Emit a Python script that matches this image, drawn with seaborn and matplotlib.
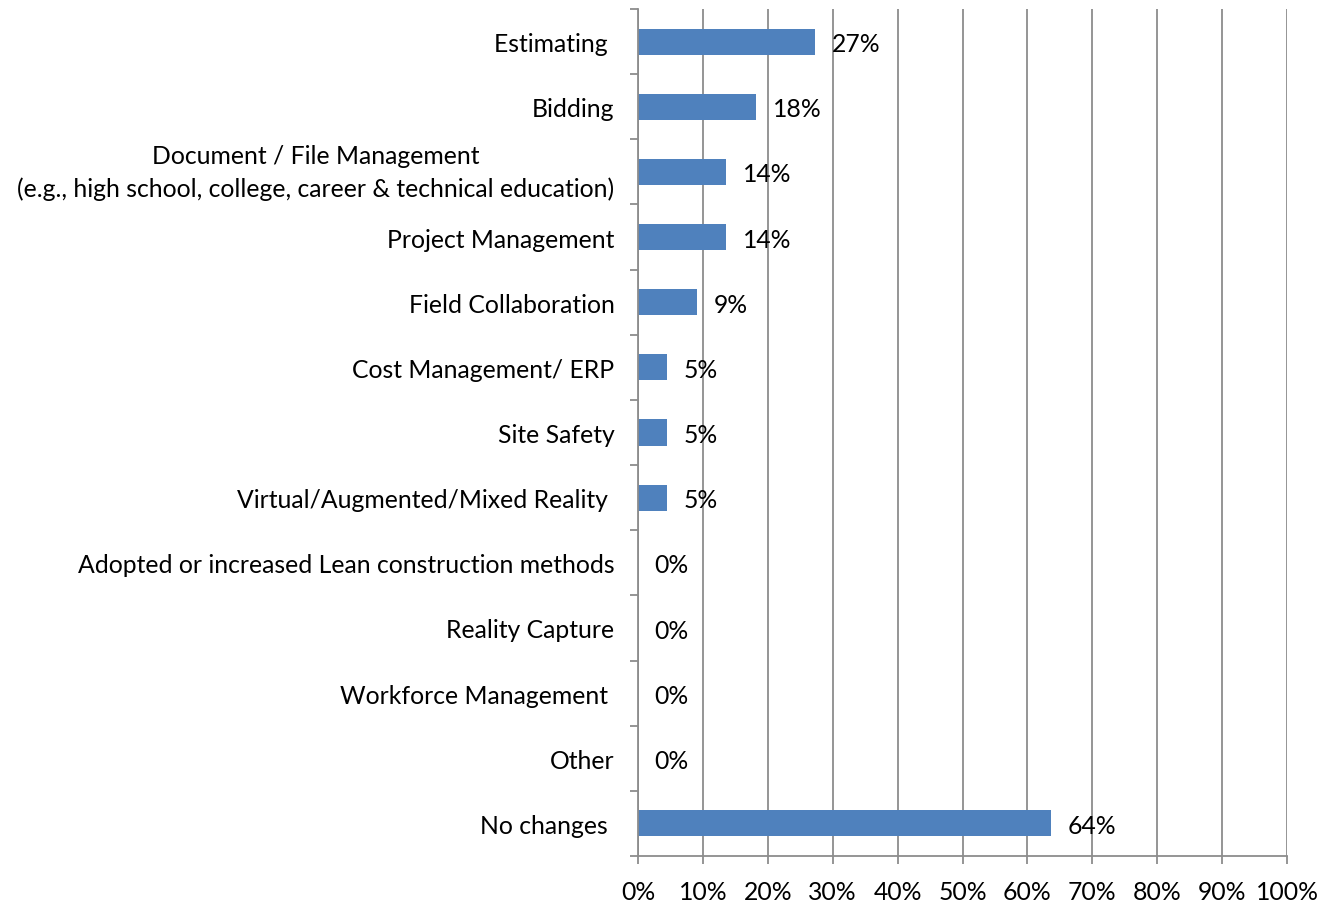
import matplotlib
matplotlib.use("Agg")
import matplotlib.pyplot as plt
import seaborn as sns
import pandas as pd
import numpy as np
from matplotlib.ticker import FixedLocator, PercentFormatter

categories = [
    "Estimating ",
    "Bidding",
    "Document / File Management\n(e.g., high school, college, career & technical education)",
    "Project Management",
    "Field Collaboration",
    "Cost Management/ ERP",
    "Site Safety",
    "Virtual/Augmented/Mixed Reality ",
    "Adopted or increased Lean construction methods",
    "Reality Capture",
    "Workforce Management ",
    "Other",
    "No changes ",
]
values = [27.3, 18.2, 13.6, 13.6, 9.1, 4.5, 4.5, 4.5, 0, 0, 0, 0, 63.6]
value_labels = ["27%", "18%", "14%", "14%", "9%", "5%", "5%", "5%", "0%", "0%", "0%", "0%", "64%"]
x_ticks = [0, 10, 20, 30, 40, 50, 60, 70, 80, 90, 100]

sns.set_theme(style="white")
plt.rcParams["font.family"] = ["Lato", "DejaVu Sans"]

df = pd.DataFrame({"cat": categories, "val": values})

fig = plt.figure(figsize=(13.35, 9.03), dpi=100)
ax = fig.add_axes([638/1335, 1 - 857/903, (1287-638)/1335, (857-10)/903])

sns.barplot(data=df, y="cat", x="val", orient="h", color="#4F81BD",
            saturation=1, width=0.4, ax=ax, zorder=3, linewidth=0)

ax.set_xlim(0, 100)
ax.set_ylim(len(categories) - 0.5, -0.5)
ax.xaxis.set_major_locator(FixedLocator(x_ticks))
ax.xaxis.set_major_formatter(PercentFormatter(decimals=0))
ax.grid(axis="x", color="#8C8C8C", linewidth=1.3, zorder=0)
ax.grid(axis="y", visible=False)

for s in ["top", "right"]:
    ax.spines[s].set_visible(False)
for s in ["left", "bottom"]:
    ax.spines[s].set_color("#8C8C8C")
    ax.spines[s].set_linewidth(1.3)
    ax.spines[s].set_zorder(5)

ax.set_xlabel("")
ax.set_ylabel("")
ax.tick_params(axis="x", which="major", bottom=True, direction="out", length=6, width=1.3,
               color="#8C8C8C", labelsize=17.8, pad=11, labelcolor="black")
ax.tick_params(axis="y", which="major", left=True, length=0, labelsize=17.8, pad=17, labelcolor="black")
ax.yaxis.set_minor_locator(FixedLocator(np.arange(-0.5, len(categories), 1.0)))
ax.tick_params(axis="y", which="minor", left=True, direction="out", length=6, width=1.3, color="#8C8C8C")
for lbl in ax.get_yticklabels():
    lbl.set_horizontalalignment("right")
    lbl.set_multialignment("center")
    if "\n" in lbl.get_text():
        lbl.set_linespacing(1.45)
        lbl.set_verticalalignment("center")

for i, (v, t) in enumerate(zip(values, value_labels)):
    ax.annotate(t, xy=(v, i), xytext=(12, -1.5), textcoords="offset points",
                ha="left", va="center", fontsize=17.8, color="black", zorder=4)

fig.savefig("out.png", dpi=100)
